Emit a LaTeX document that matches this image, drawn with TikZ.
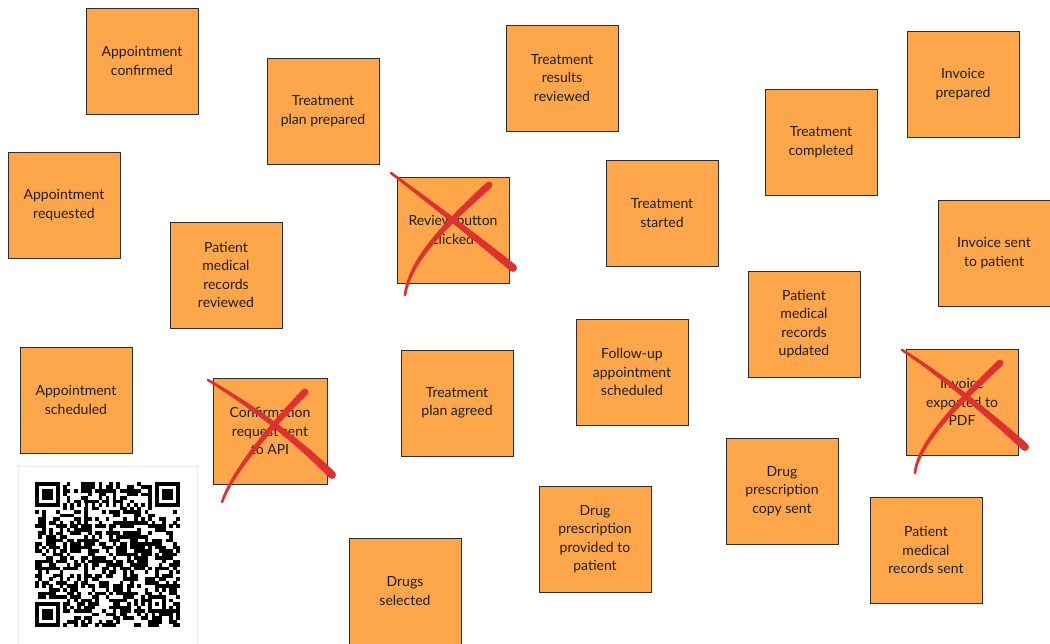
\documentclass[tikz,border=0pt]{standalone}
\usepackage{fontspec}
\setmainfont{Lato}
\definecolor{noteorange}{RGB}{254,167,74}
\definecolor{noteedge}{RGB}{45,45,45}
\definecolor{notetext}{RGB}{30,30,30}
\definecolor{strikered}{RGB}{224,49,49}
\definecolor{cardedge}{RGB}{233,236,239}

% tapered freehand stroke: #1 name prefix, #2 start, #3/#4 controls, #5 end,
% #6 width at start, #7 width at end (pt)
\newcommand\taperstroke[7]{%
  \foreach \k in {0,...,24}{%
    \path #2 .. controls #3 and #4 .. #5 coordinate[pos=\k/24] (#1\k);
  }%
  \foreach \k in {0,...,23}{%
    \pgfmathsetmacro\wd{#6+(#7-#6)*(\k+0.5)/24}%
    \pgfmathtruncatemacro\kn{\k+1}%
    \draw[strikered, line width=\wd pt, line cap=round] (#1\k) -- (#1\kn);
  }%
}

\tikzset{
  note/.style={rectangle, fill=noteorange, draw=noteedge, line width=0.9pt,
    minimum width=112pt, minimum height=106pt, inner sep=0pt,
    align=center, text=notetext, font=\fontsize{14}{18.5}\selectfont}
}

\begin{document}
\begin{tikzpicture}[x=1pt, y=-1pt]
\useasboundingbox (0,0) rectangle (1050,643);
\fill[white] (0,0) rectangle (1050,643);

% sticky notes
\node[note] (apconf) at (142,61) {Appointment\\confirmed};
\node[note] (tplanprep) at (323,111) {Treatment\\plan prepared};
\node[note] (apreq) at (64,205) {Appointment\\requested};
\node[note] (pmrrev) at (226,275) {Patient\\medical\\records\\reviewed};
\node[note] (revbtn) at (453,230) {Review button\\clicked};
\node[note] (apsched) at (76,400) {Appointment\\scheduled};
\node[note, minimum width=114pt] (confreq) at (270,431) {Confirmation\\request sent\\to API};
\node[note] (tplanagr) at (457,403) {Treatment\\plan agreed};
\node[note] (tresrev) at (562,78) {Treatment\\results\\reviewed};
\node[note] (tstart) at (662,213) {Treatment\\started};
\node[note] (tcomp) at (821,142) {Treatment\\completed};
\node[note] (invprep) at (963,84) {Invoice\\prepared};
\node[note] (invsent) at (994,253) {Invoice sent\\to patient};
\node[note] (pmrupd) at (804,324) {Patient\\medical\\records\\updated};
\node[note] (followup) at (632,372) {Follow-up\\appointment\\scheduled};
\node[note] (invpdf) at (962,402) {Invoice\\exported to\\PDF};
\node[note] (drugcopy) at (782,491) {Drug\\prescription\\copy sent};
\node[note] (drugprov) at (595,539) {Drug\\prescription\\provided to\\patient};
\node[note] (pmrsent) at (926,550) {Patient\\medical\\records sent};
\node[note] (drugsel) at (405,591) {Drugs\\selected};

% red crosses over discarded notes
\taperstroke{ra}{(391,173)}{(431,203)}{(473,235)}{(513,268)}{2.5}{8}
\taperstroke{rb}{(489,185)}{(445,225)}{(410,260)}{(405,295)}{7}{2.5}
\taperstroke{ca}{(208,380)}{(250,405)}{(295,438)}{(332,475)}{2.5}{8}
\taperstroke{cb}{(305,392)}{(285,412)}{(235,465)}{(222,502)}{7}{2.5}
\taperstroke{ia}{(902,350)}{(940,374)}{(990,415)}{(1025,447)}{2.5}{8}
\taperstroke{ib}{(1000,363)}{(970,392)}{(918,440)}{(915,473)}{7}{2.5}

% QR code card
\draw[cardedge, fill=white, line width=0.8pt] (18,466) rectangle (197,650);
\begin{scope}[shift={(35,482)}, x=3.5366pt, y=-3.5366pt]
  \pgfmathsetseed{4711}
  \foreach \i in {0,...,40}{
    \foreach \j in {0,...,40}{
      \pgfmathtruncatemacro\reserved{(\i<8 && \j<8) || (\i>32 && \j<8) || (\i<8 && \j>32) || (\i>31 && \i<37 && \j>31 && \j<37) || \i==6 || \j==6}
      \ifnum\reserved=0
        \pgfmathrandominteger\bit{0}{1}
        \ifnum\bit=1 \fill (\i-0.02,\j-0.02) rectangle ++(1.04,1.04); \fi
      \fi
    }
  }
  \foreach \k in {8,10,...,32}{
    \fill (\k,6) rectangle ++(1,1);
    \fill (6,\k) rectangle ++(1,1);
  }
  \foreach \a/\b in {0/0,34/0,0/34}{
    \fill (\a,\b) rectangle ++(7,7);
    \fill[white] (\a+1,\b+1) rectangle ++(5,5);
    \fill (\a+2,\b+2) rectangle ++(3,3);
  }
  \fill (32,32) rectangle ++(5,5);
  \fill[white] (33,33) rectangle ++(3,3);
  \fill (34,34) rectangle ++(1,1);
\end{scope}
\end{tikzpicture}
\end{document}
